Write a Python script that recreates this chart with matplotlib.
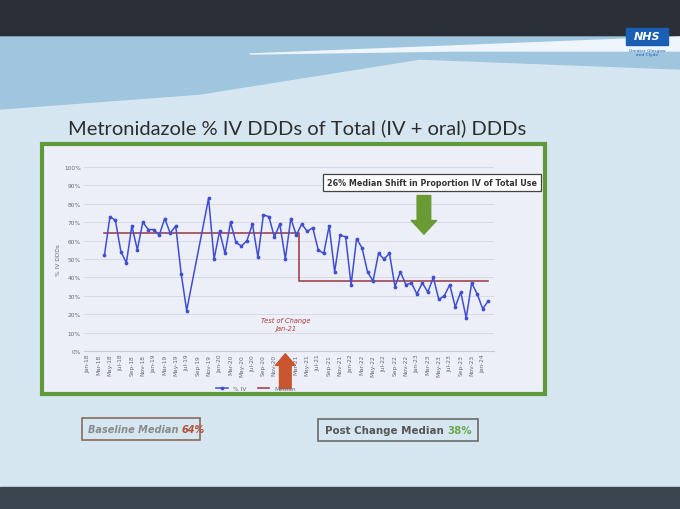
import numpy as np
import pandas as pd
import matplotlib
matplotlib.use("Agg")
import matplotlib.pyplot as plt
from matplotlib.patches import Rectangle, Polygon

W, H = 680, 510

# monthly category axis, Jan-18 .. Feb-24
months = pd.date_range("2018-01-01", "2024-02-01", freq="MS")
month_labels = [m.strftime("%b-%y") for m in months]

first_month = "Apr-18"
change_month = "Apr-21"
test_month = "Jan-21"

# % IV DDDs of total, monthly from Apr-18 (None = no value recorded)
pct_iv = [
    52, 73, 71, 54, 48, 68, 55, 70, 66, 66, 63, 72, 64, 68,      # Apr-18 .. May-19
    42, 22, None, None, None,                                   # Jun-19 .. Oct-19
    83, 50, 65, 53, 70, 59, 57, 60, 69, 51, 74, 73, 62, 69,      # Nov-19 .. Dec-20
    50, 72, 63,                                                 # Jan-21 .. Mar-21
    69, 65, 67, 55, 53, 68, 43, 63, 62,                         # Apr-21 .. Dec-21
    36, 61, 56, 43, 38, 53, 50, 53, 35, 43, 36, 37,             # 2022
    31, 37, 32, 40, 28, 30, 36, 24, 32, 18, 37, 31,             # 2023
    23, 27,                                                     # Jan-24 .. Feb-24
]
baseline_median = 64
post_median = 38

title = "Metronidazole % IV DDDs of Total (IV + oral) DDDs"
shift_note = "26% Median Shift in Proportion IV of Total Use"


def fx(x):
    return x / W


def fy(y):
    return 1 - y / H


fig = plt.figure(figsize=(W / 100, H / 100), dpi=100)
fig.patch.set_facecolor("#d6e6f1")

# slide decoration
fig.patches.append(Rectangle((0, fy(38)), 1, 1, transform=fig.transFigure,
                             color="#2b3038", zorder=0))
fig.patches.append(Polygon([[0, fy(38)], [fx(680), fy(38)], [fx(680), fy(70)],
                            [fx(420), fy(60)], [fx(200), fy(95)], [0, fy(110)]],
                           closed=True, transform=fig.transFigure,
                           color="#9fc6de", zorder=0))
fig.patches.append(Polygon([[fx(250), fy(55)], [fx(680), fy(38)], [fx(680), fy(52)],
                            [fx(450), fy(52)]], closed=True,
                           transform=fig.transFigure, color="#eef6fb", zorder=0))
fig.patches.append(Rectangle((0, 0), 1, fy(488), transform=fig.transFigure,
                             color="#3b4550", zorder=0))

# NHS logo
fig.patches.append(Rectangle((fx(626), fy(46)), fx(42), 17 / H,
                             transform=fig.transFigure, color="#1a5fb4", zorder=1))
fig.text(fx(647), fy(37.5), "NHS", color="white", fontsize=8, fontweight="bold",
         style="italic", ha="center", va="center")
fig.text(fx(647), fy(53), "Greater Glasgow\nand Clyde", color="#1a5fb4",
         fontsize=3.2, ha="center", va="center", linespacing=1.0)

fig.text(fx(68), fy(128), title, fontsize=14.5, color="#2d2d2d",
         family="Lato", ha="left", va="center")

# green chart frame
fig.patches.append(Rectangle((fx(42), fy(395)), fx(545 - 42), (395 - 145) / H,
                             transform=fig.transFigure, facecolor="#eceef8",
                             edgecolor="#5f9a3a", linewidth=3.0, zorder=1))

x0 = month_labels.index(first_month)
x = np.arange(x0, x0 + len(pct_iv))
y = np.array([np.nan if v is None else v for v in pct_iv], dtype=float)
ok = ~np.isnan(y)
change_idx = month_labels.index(change_month)
median = np.where(x < change_idx, baseline_median, post_median)

left = 88 - 0.8 * 5.48
ax = fig.add_axes([fx(left), fy(352), fx(410), 184 / H], zorder=2)
ax.set_facecolor("#eceef8")
ax.plot(x[ok], y[ok], color="#3f4fd0", linewidth=1.1, marker="o",
        markersize=1.7, label="% IV", zorder=3)
ax.plot(x, median, color="#a0444e", linewidth=1.2, drawstyle="steps-mid",
        label="Median", zorder=2)

ax.set_xlim(-0.8, 74)
ax.set_ylim(0, 100)
ax.set_yticks(range(0, 101, 10))
ax.set_yticklabels([f"{v}%" for v in range(0, 101, 10)])
ax.set_xticks(range(0, len(month_labels), 2))
ax.set_xticklabels(month_labels[::2], rotation=90)
ax.tick_params(axis="both", labelsize=4.2, colors="#6a6a7a", length=0, pad=2)
ax.grid(axis="y", color="#d3d5e0", linewidth=0.6)
ax.set_axisbelow(True)
for s in ["top", "right", "left"]:
    ax.spines[s].set_visible(False)
ax.spines["bottom"].set_color("#c8c8d4")
ax.set_ylabel("% IV DDDs", fontsize=4.2, color="#6a6a7a", labelpad=2)

ax.legend(loc="upper center", bbox_to_anchor=(0.42, -0.16), ncol=2, frameon=False,
          fontsize=4.2, handlelength=2.0, labelcolor="#6a6a7a")

# annotations
ax.text(0.85, 0.915, shift_note, transform=ax.transAxes, fontsize=5.8,
        fontweight="bold", color="#333333", ha="center", va="center",
        bbox=dict(boxstyle="square,pad=0.5", facecolor="white",
                  edgecolor="#444444", linewidth=0.9), clip_on=False, zorder=5)
ax.annotate("", xy=(0.83, 0.62), xytext=(0.83, 0.86), xycoords="axes fraction",
            arrowprops=dict(arrowstyle="simple,head_length=0.7,head_width=1.3,tail_width=0.7",
                            color="#6a9a34", mutation_scale=14), zorder=5)

ti = month_labels.index(test_month)
ax.annotate("", xy=(ti, 0.0), xytext=(ti, -0.22),
            xycoords=("data", "axes fraction"),
            arrowprops=dict(arrowstyle="simple,head_length=0.7,head_width=1.2,tail_width=0.7",
                            color="#c8552e", mutation_scale=12),
            annotation_clip=False, zorder=5)
ax.text(ti, 11, "Test of Change\nJan-21", fontsize=4.8, color="#b03a3a",
        style="italic", ha="center", va="bottom", linespacing=1.3)

# median summary boxes
t1 = fig.text(fx(88), fy(430), "Baseline Median ", fontsize=7, color="#8a8a8a",
              fontweight="bold", style="italic", ha="left", va="center")
fig.canvas.draw()
bb = t1.get_window_extent()
fig.text(bb.x1 / W, fy(430), "64%", fontsize=7, color="#b5503a",
         fontweight="bold", style="italic", ha="left", va="center")
fig.patches.append(Rectangle((fx(82), fy(441)), fx(118), 22 / H,
                             transform=fig.transFigure, facecolor="none",
                             edgecolor="#8a6a5c", linewidth=1.2))

t2 = fig.text(fx(325), fy(431), "Post Change Median ", fontsize=7.4, color="#555555",
              fontweight="bold", ha="left", va="center")
fig.canvas.draw()
bb = t2.get_window_extent()
fig.text(bb.x1 / W, fy(431), "38%", fontsize=7.4, color="#6aa84f",
         fontweight="bold", ha="left", va="center")
fig.patches.append(Rectangle((fx(318), fy(442)), fx(160), 22 / H,
                             transform=fig.transFigure, facecolor="none",
                             edgecolor="#6a6a6a", linewidth=1.2))

fig.savefig("out.png", dpi=100, facecolor=fig.get_facecolor())
